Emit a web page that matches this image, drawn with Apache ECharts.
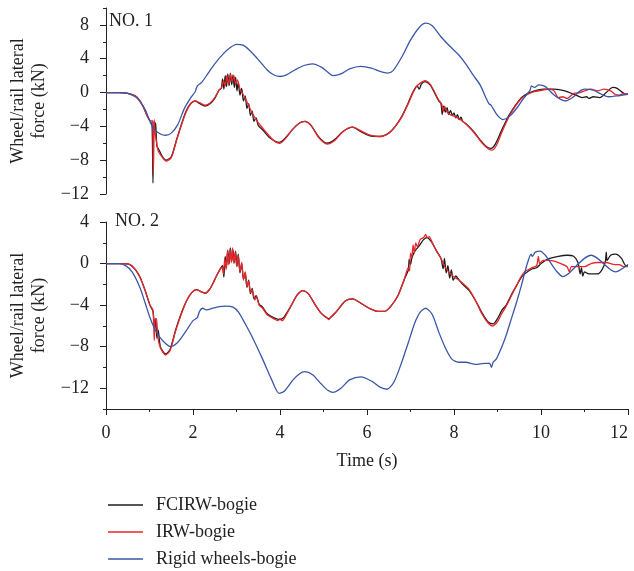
<!DOCTYPE html>
<html><head><meta charset="utf-8">
<script src="https://cdn.jsdelivr.net/npm/echarts@6/dist/echarts.min.js"></script>
<style>html,body{margin:0;padding:0;background:#fff}#c{width:634px;height:571px}</style>
</head><body><div id="c"></div>
<script>
var seriesNames = ['FCIRW-bogie', 'IRW-bogie', 'Rigid wheels-bogie'];
var xTicks = [0, 2, 4, 6, 8, 10, 12];
var panelLabels = ['NO. 1', 'NO. 2'];

var no1_fcirw = [[0,0],[0.3,0],[0.5,-0.1],[0.7,-0.5],[0.85,-1.6],[0.95,-2.8],[1.03,-3.5],[1.06,-4.0],[1.08,-10.7],[1.1,-3.4],[1.12,-4.5],[1.14,-3.6],[1.17,-6.3],[1.22,-6.8],[1.3,-7.6],[1.38,-8.0],[1.5,-7.6],[1.62,-5.6],[1.75,-3.5],[1.85,-2.1],[1.95,-1.3],[2.05,-1.0],[2.15,-1.3],[2.28,-1.6],[2.4,-1.3],[2.5,-0.7],[2.6,0.3],[2.65,0.5],[2.68,1.6],[2.71,0.4],[2.74,2.0],[2.77,0.7],[2.8,2.2],[2.83,0.8],[2.86,2.3],[2.89,0.9],[2.92,2.1],[2.95,0.6],[2.98,1.8],[3.01,0.2],[3.04,1.2],[3.08,-0.3],[3.12,0.5],[3.16,-1.0],[3.2,-0.4],[3.24,-1.9],[3.28,-1.3],[3.32,-2.7],[3.36,-2.2],[3.4,-3.4],[3.45,-3.0],[3.5,-3.9],[3.6,-4.4],[3.75,-5.3],[3.9,-5.8],[3.98,-5.9],[4.1,-5.5],[4.3,-4.3],[4.45,-3.6],[4.57,-3.4],[4.7,-3.8],[4.9,-5.3],[5.08,-6.0],[5.25,-5.6],[5.45,-4.6],[5.67,-4.1],[5.85,-4.6],[6.05,-5.1],[6.3,-5.2],[6.5,-4.8],[6.65,-4.0],[6.8,-2.8],[6.95,-1.2],[7.05,0.0],[7.15,0.8],[7.2,0.4],[7.25,1.0],[7.33,1.3],[7.45,0.9],[7.55,0.0],[7.65,-1.0],[7.7,-1.3],[7.73,-2.6],[7.76,-1.6],[7.8,-2.3],[7.84,-1.8],[7.88,-2.6],[7.92,-2.1],[7.96,-2.7],[8.0,-2.4],[8.04,-3.0],[8.08,-2.6],[8.12,-3.2],[8.16,-2.9],[8.2,-3.4],[8.3,-3.8],[8.45,-4.6],[8.6,-5.6],[8.75,-6.4],[8.85,-6.6],[8.95,-6.1],[9.1,-4.4],[9.25,-2.8],[9.4,-1.6],[9.55,-0.6],[9.7,-0.1],[9.85,0.2],[10.05,0.4],[10.3,0.4],[10.55,0.2],[10.8,-0.3],[10.95,-0.6],[11.05,-0.5],[11.1,-0.7],[11.2,-0.5],[11.35,-0.6],[11.5,0.0],[11.65,0.6],[11.75,0.5],[11.9,-0.1],[12.0,-0.2]];

var no1_irw = [[0,0],[0.3,0],[0.5,-0.1],[0.7,-0.5],[0.85,-1.6],[0.95,-2.8],[1.03,-3.4],[1.07,-3.3],[1.09,-9.5],[1.11,-3.2],[1.13,-4.8],[1.15,-5.5],[1.2,-6.9],[1.3,-7.7],[1.38,-8.1],[1.5,-7.7],[1.62,-5.7],[1.75,-3.6],[1.85,-2.2],[1.95,-1.3],[2.05,-1.0],[2.15,-1.2],[2.28,-1.5],[2.4,-1.2],[2.5,-0.6],[2.6,0.3],[2.66,0.6],[2.7,1.4],[2.74,0.8],[2.78,2.0],[2.82,1.0],[2.86,2.2],[2.9,1.3],[2.94,2.0],[2.98,1.0],[3.02,1.5],[3.08,0.4],[3.15,-0.2],[3.25,-1.2],[3.35,-2.3],[3.45,-3.2],[3.55,-3.9],[3.65,-4.5],[3.8,-5.4],[3.92,-5.9],[4.0,-6.0],[4.1,-5.6],[4.3,-4.3],[4.45,-3.6],[4.57,-3.4],[4.7,-3.8],[4.9,-5.4],[5.08,-6.1],[5.25,-5.7],[5.45,-4.6],[5.67,-4.1],[5.85,-4.5],[6.05,-5.0],[6.3,-5.2],[6.5,-4.8],[6.65,-4.0],[6.8,-2.9],[6.95,-1.3],[7.05,-0.1],[7.15,0.8],[7.25,1.2],[7.33,1.4],[7.45,1.0],[7.55,0.1],[7.65,-0.9],[7.72,-1.4],[7.75,-2.2],[7.78,-1.6],[7.85,-2.4],[7.95,-2.7],[8.05,-2.9],[8.2,-3.4],[8.35,-4.1],[8.5,-5.0],[8.65,-6.0],[8.8,-6.7],[8.88,-6.8],[8.98,-6.2],[9.1,-4.7],[9.25,-3.0],[9.4,-1.7],[9.55,-0.7],[9.7,-0.2],[9.85,0.1],[10.05,0.3],[10.2,0.4],[10.3,0.2],[10.4,-0.6],[10.5,-0.5],[10.6,-0.7],[10.75,-0.1],[10.9,0.0],[11.0,0.2],[11.15,0.4],[11.3,0.2],[11.45,0.4],[11.6,0.2],[11.7,-0.2],[11.8,-0.3],[11.9,-0.1],[12.0,-0.2]];

var no1_rigid = [[0,0],[0.3,0],[0.5,-0.1],[0.7,-0.6],[0.9,-2.0],[1.0,-3.3],[1.1,-4.3],[1.25,-4.9],[1.37,-5.05],[1.5,-4.8],[1.65,-3.8],[1.8,-1.9],[1.95,-0.6],[2.05,0.1],[2.1,0.8],[2.2,1.2],[2.35,2.3],[2.5,3.4],[2.7,4.6],[2.85,5.3],[3.0,5.7],[3.15,5.6],[3.3,5.0],[3.5,3.9],[3.7,2.7],[3.85,2.1],[4.0,1.9],[4.15,2.1],[4.35,2.7],[4.55,3.2],[4.75,3.4],[4.95,3.0],[5.1,2.4],[5.22,2.0],[5.4,2.2],[5.6,2.8],[5.85,3.1],[6.1,2.9],[6.3,2.5],[6.47,2.3],[6.6,2.6],[6.8,4.2],[7.0,6.2],[7.2,7.7],[7.35,8.2],[7.5,7.9],[7.7,6.6],[7.9,5.5],[8.1,4.5],[8.27,3.4],[8.45,2.0],[8.6,0.9],[8.75,-0.8],[8.8,-1.3],[8.85,-1.5],[9.0,-2.7],[9.13,-3.2],[9.3,-2.7],[9.45,-1.8],[9.6,-0.7],[9.75,0.3],[9.78,0.8],[9.85,0.6],[9.95,0.9],[10.1,0.7],[10.3,-0.3],[10.45,-0.8],[10.57,-1.0],[10.75,-0.5],[10.9,0.2],[11.0,0.4],[11.2,0.3],[11.35,-0.1],[11.55,-0.5],[11.75,-0.4],[12.0,-0.2]];

var no2_fcirw = [[0,0],[0.35,0],[0.55,-0.1],[0.68,-0.6],[0.78,-1.3],[0.9,-2.6],[1.01,-4.0],[1.08,-4.6],[1.12,-6.2],[1.14,-5.3],[1.17,-7.2],[1.2,-6.4],[1.25,-8.0],[1.37,-8.7],[1.47,-8.3],[1.6,-6.4],[1.72,-4.9],[1.85,-3.6],[1.97,-2.8],[2.08,-2.5],[2.18,-2.7],[2.28,-2.85],[2.38,-2.5],[2.46,-1.9],[2.55,-1.1],[2.63,-0.5],[2.68,-0.2],[2.71,-1.3],[2.74,0.7],[2.77,-0.4],[2.8,1.3],[2.83,0.0],[2.86,1.5],[2.89,0.2],[2.92,1.3],[2.95,0.1],[2.98,1.2],[3.01,-0.3],[3.04,0.9],[3.08,-0.9],[3.12,0.0],[3.16,-1.5],[3.2,-0.9],[3.24,-2.3],[3.28,-1.6],[3.32,-2.9],[3.36,-2.4],[3.4,-3.4],[3.45,-3.1],[3.52,-3.9],[3.6,-4.2],[3.7,-4.8],[3.85,-5.2],[4.0,-5.4],[4.1,-5.1],[4.25,-4.1],[4.4,-3.0],[4.53,-2.6],[4.65,-2.9],[4.8,-3.9],[4.95,-4.8],[5.12,-5.3],[5.3,-4.6],[5.5,-3.6],[5.67,-3.4],[5.85,-3.8],[6.05,-4.3],[6.25,-4.6],[6.41,-4.6],[6.55,-4.1],[6.71,-3.1],[6.85,-1.6],[6.95,-0.6],[6.97,0.4],[7.0,-0.1],[7.03,0.5],[7.1,1.2],[7.2,1.7],[7.3,2.3],[7.38,2.5],[7.48,2.1],[7.6,1.2],[7.7,0.5],[7.75,-0.5],[7.78,0.5],[7.82,-0.9],[7.86,-0.2],[7.9,-1.4],[7.94,-0.6],[7.98,-1.6],[8.04,-1.2],[8.12,-1.6],[8.2,-2.0],[8.35,-2.6],[8.5,-3.6],[8.65,-4.8],[8.78,-5.6],[8.9,-5.8],[9.0,-5.3],[9.1,-4.5],[9.2,-4.0],[9.32,-3.0],[9.44,-2.1],[9.55,-1.3],[9.65,-0.9],[9.8,-0.5],[9.9,-0.4],[10.0,0.0],[10.1,0.3],[10.2,0.5],[10.4,0.7],[10.6,0.8],[10.75,0.7],[10.85,0.1],[10.9,-1.0],[10.93,-0.4],[10.96,-1.2],[11.0,-0.8],[11.1,-1.0],[11.3,-1.0],[11.4,-0.6],[11.48,0.2],[11.5,1.1],[11.52,0.3],[11.6,0.8],[11.72,0.9],[11.85,0.5],[11.95,-0.2],[12.0,-0.2]];

var no2_irw = [[0,0],[0.35,0],[0.55,-0.1],[0.68,-0.6],[0.78,-1.3],[0.9,-2.6],[1.01,-4.0],[1.08,-4.5],[1.11,-7.4],[1.13,-5.4],[1.16,-5.3],[1.19,-7.0],[1.25,-8.1],[1.37,-8.8],[1.47,-8.4],[1.6,-6.5],[1.72,-5.0],[1.85,-3.6],[1.97,-2.8],[2.08,-2.5],[2.18,-2.7],[2.28,-2.85],[2.38,-2.5],[2.46,-1.9],[2.55,-1.1],[2.63,-0.5],[2.67,-0.4],[2.7,-1.0],[2.73,0.5],[2.76,-0.6],[2.79,1.2],[2.82,-0.1],[2.85,1.4],[2.88,0.1],[2.91,1.5],[2.94,0.0],[2.97,1.1],[3.0,-0.2],[3.04,0.8],[3.08,-0.8],[3.12,0.1],[3.16,-1.6],[3.2,-0.8],[3.24,-2.2],[3.28,-1.7],[3.32,-2.8],[3.36,-2.5],[3.42,-3.5],[3.46,-3.2],[3.52,-4.0],[3.6,-4.3],[3.7,-4.9],[3.85,-5.3],[3.95,-5.5],[4.0,-5.3],[4.05,-5.5],[4.15,-4.9],[4.25,-4.1],[4.4,-3.0],[4.53,-2.6],[4.65,-2.9],[4.8,-3.9],[4.95,-4.8],[5.08,-5.2],[5.12,-5.4],[5.18,-5.1],[5.3,-4.6],[5.5,-3.6],[5.67,-3.4],[5.85,-3.8],[6.05,-4.3],[6.25,-4.6],[6.41,-4.6],[6.55,-4.1],[6.71,-3.1],[6.85,-1.6],[6.95,-0.4],[6.98,-0.7],[7.0,1.0],[7.03,0.6],[7.06,1.8],[7.09,1.0],[7.12,2.0],[7.16,1.6],[7.22,2.3],[7.3,2.5],[7.35,2.8],[7.38,2.5],[7.43,2.6],[7.5,2.0],[7.6,1.2],[7.7,0.5],[7.8,-0.4],[7.9,-0.9],[8.0,-1.3],[8.12,-1.6],[8.2,-1.9],[8.35,-2.5],[8.5,-3.6],[8.65,-4.9],[8.78,-5.7],[8.88,-6.0],[9.0,-5.6],[9.1,-4.8],[9.2,-4.1],[9.32,-3.1],[9.44,-2.1],[9.55,-1.2],[9.65,-0.7],[9.8,-0.4],[9.9,-0.2],[9.94,0.7],[9.97,0.0],[10.05,0.3],[10.2,0.3],[10.4,0.1],[10.6,-0.3],[10.65,-0.8],[10.7,-0.3],[10.9,-0.3],[11.0,-0.3],[11.15,0.0],[11.3,0.1],[11.5,0.1],[11.7,-0.1],[11.8,-0.1],[11.9,-0.3],[12.0,-0.3]];

var no2_rigid = [[0,0],[0.3,0],[0.45,-0.2],[0.6,-0.8],[0.78,-2.3],[0.9,-3.8],[1.01,-5.2],[1.12,-6.3],[1.24,-7.1],[1.37,-7.7],[1.49,-8.0],[1.62,-7.7],[1.74,-7.1],[1.87,-6.3],[2.0,-5.5],[2.1,-5.2],[2.15,-4.6],[2.22,-4.3],[2.31,-4.45],[2.45,-4.3],[2.6,-4.15],[2.75,-4.1],[2.92,-4.2],[3.05,-4.7],[3.2,-5.8],[3.4,-7.4],[3.6,-9.2],[3.8,-11.1],[3.98,-12.5],[4.1,-12.3],[4.3,-11.2],[4.45,-10.6],[4.57,-10.4],[4.75,-10.7],[4.95,-11.6],[5.1,-12.2],[5.22,-12.4],[5.4,-12.0],[5.6,-11.2],[5.86,-10.9],[6.1,-11.3],[6.3,-11.9],[6.46,-12.1],[6.62,-11.4],[6.79,-9.6],[6.95,-7.6],[7.1,-5.7],[7.22,-4.7],[7.35,-4.3],[7.5,-4.9],[7.65,-6.6],[7.8,-8.1],[7.95,-9.2],[8.1,-9.5],[8.27,-9.5],[8.5,-9.7],[8.7,-9.6],[8.82,-9.6],[8.86,-10.0],[8.9,-9.5],[8.97,-9.2],[9.1,-8.0],[9.2,-6.9],[9.32,-5.3],[9.44,-3.7],[9.55,-2.1],[9.63,-0.8],[9.7,0.2],[9.77,0.9],[9.8,0.7],[9.87,1.1],[9.98,1.2],[10.1,0.8],[10.2,0.2],[10.35,-0.7],[10.5,-1.25],[10.65,-0.9],[10.84,-0.1],[11.0,0.5],[11.15,0.8],[11.3,0.5],[11.46,-0.1],[11.6,-0.6],[11.72,-0.8],[11.9,-0.4],[12.0,-0.1]];

var no1_yLabels = [-12, -8, -4, 0, 4, 8];
var no2_yLabels = [-12, -8, -4, 0, 4];

var FONT = '"Liberation Serif", "DejaVu Serif", serif';
var colors = ['#1c1c1c', '#e8262b', '#3b56a8'];
function fmt(v) { return String(v).replace('-', '\u2212'); }
function yMain(gi, min, max, labels) {
  return {
    type: 'value', gridIndex: gi, min: min, max: max, interval: 2, position: 'left',
    name: 'Wheel/rail lateral\nforce (kN)', nameLocation: 'middle', nameRotate: 90, nameGap: 49,
    nameTextStyle: { fontFamily: FONT, fontSize: 18, color: '#222', lineHeight: 21 },
    axisLine: { show: true, onZero: false, lineStyle: { color: '#222', width: 1 } },
    axisTick: { show: true, length: 3, inside: false, lineStyle: { color: '#222' } },
    splitLine: { show: false },
    axisLabel: { fontFamily: FONT, fontSize: 18, color: '#222', margin: 17,
      formatter: function (v) { return labels.indexOf(v) >= 0 ? fmt(v) : ''; } }
  };
}
function yMajor(gi, min, max, labels) {
  return {
    type: 'value', gridIndex: gi, min: min, max: max, position: 'left', offset: 0,
    axisLine: { show: false, onZero: false }, splitLine: { show: false },
    axisTick: { show: true, length: 6, customValues: labels, lineStyle: { color: '#222' } },
    axisLabel: { show: false }
  };
}
function mk(name, data, xi, yi, ci) {
  return { name: name, type: 'line', xAxisIndex: xi, yAxisIndex: yi, data: data,
    showSymbol: false, symbol: 'none', smooth: 0.25, animation: false,
    lineStyle: { color: colors[ci], width: 1.3 }, itemStyle: { color: colors[ci] } };
}

var chart = echarts.init(document.getElementById('c'));
chart.setOption({
  animation: false,
  backgroundColor: '#fff',
  grid: [
    { left: 106, top: 8, width: 522, height: 186, outerBoundsMode: 'none', containLabel: false },
    { left: 106, top: 222, width: 522, height: 187, outerBoundsMode: 'none', containLabel: false }
  ],
  xAxis: [
    { type: 'value', gridIndex: 0, min: 0, max: 12, show: false },
    { type: 'value', gridIndex: 1, min: 0, max: 12, interval: 2,
      name: 'Time (s)', nameLocation: 'middle', nameGap: 43,
      nameTextStyle: { fontFamily: FONT, fontSize: 18, color: '#222' },
      axisLine: { show: true, onZero: false, lineStyle: { color: '#222' } },
      axisTick: { show: true, length: 6, lineStyle: { color: '#222' } },
      minorTick: { show: true, splitNumber: 2, length: 3, lineStyle: { color: '#222' } },
      splitLine: { show: false },
      axisLabel: { fontFamily: FONT, fontSize: 18, color: '#222', margin: 15, alignMaxLabel: 'right',
        formatter: function (v) { return xTicks.indexOf(v) >= 0 ? String(v) : ''; } }
    }
  ],
  yAxis: [
    yMain(0, -12, 10, no1_yLabels), yMajor(0, -12, 10, no1_yLabels),
    yMain(1, -14, 4, no2_yLabels), yMajor(1, -14, 4, no2_yLabels)
  ],
  legend: {
    data: seriesNames, orient: 'vertical', left: 108, top: 496, width: 400, height: 80,
    itemWidth: 35, itemHeight: 1.5, itemGap: 9, icon: 'rect',
    padding: 0,
    textStyle: { fontFamily: FONT, fontSize: 18, color: '#222', padding: [0, 0, 0, 8] }
  },
  graphic: [
    { type: 'text', left: 109, top: 12, style: { text: panelLabels[0], font: '18px ' + FONT, fill: '#222' } },
    { type: 'text', left: 115, top: 212, style: { text: panelLabels[1], font: '18px ' + FONT, fill: '#222' } }
  ],
  series: [
    mk(seriesNames[0], no1_fcirw, 0, 0, 0),
    mk(seriesNames[1], no1_irw, 0, 0, 1),
    mk(seriesNames[2], no1_rigid, 0, 0, 2),
    mk(seriesNames[0], no2_fcirw, 1, 2, 0),
    mk(seriesNames[1], no2_irw, 1, 2, 1),
    mk(seriesNames[2], no2_rigid, 1, 2, 2)
  ]
});
</script></body></html>
